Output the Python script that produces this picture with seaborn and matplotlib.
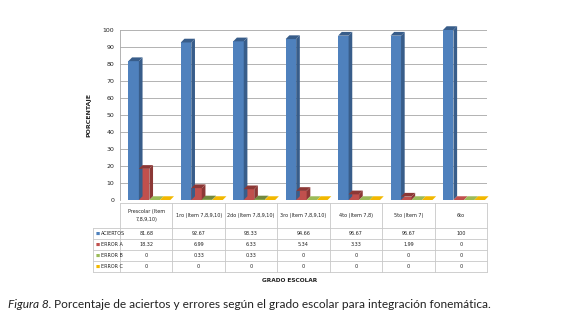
import matplotlib
matplotlib.use("Agg")
import matplotlib.pyplot as plt
from matplotlib.patches import Polygon
from matplotlib.transforms import blended_transform_factory
import seaborn as sns
import pandas as pd

# data
grados = ["Prescolar (Item\n7,8,9,10)", "1ro (Item 7,8,9,10)", "2do (Item 7,8,9,10)",
          "3ro (Item 7,8,9,10)", "4to (Item 7,8)", "5to (Item 7)", "6to"]
series = ["ACIERTOS", "ERROR A", "ERROR B", "ERROR C"]
aciertos = [81.68, 92.67, 93.33, 94.66, 96.67, 96.67, 100]
error_a = [18.32, 6.99, 6.33, 5.34, 3.33, 1.99, 0]
error_b = [0, 0.33, 0.33, 0, 0, 0, 0]
error_c = [0, 0, 0, 0, 0, 0, 0]
yticks = list(range(0, 101, 10))

colors = ["#4F81BD", "#C0504D", "#9BBB59", "#F2B800"]
side_colors = ["#385D8A", "#8C3836", "#71893F", "#B88B00"]

values = [aciertos, error_a, error_b, error_c]
df = pd.DataFrame({
    "grado": grados * 4,
    "serie": [s for s in series for _ in grados],
    "valor": aciertos + error_a + error_b + error_c,
})

sns.set_theme(style="white")
plt.rcParams["font.family"] = ["Liberation Sans Narrow", "DejaVu Sans"]

fig = plt.figure(figsize=(5.8, 3.19), dpi=100)
ax = fig.add_axes([120 / 580, 1 - 200 / 319, 367 / 580, 170 / 319])

sns.barplot(data=df, x="grado", y="valor", hue="serie", order=grados,
            hue_order=series, palette=colors, width=0.8, saturation=1,
            legend=False, ax=ax, zorder=3)

# fake 3D depth on each bar
dx, dy = 0.07, 2.2
for i, bar in enumerate(ax.patches):
    k = i // len(grados)
    x0, w, h = bar.get_x() + 0.06, bar.get_width(), bar.get_height()
    bar.set_x(x0)
    x1 = x0 + w
    bar.set_edgecolor("none")
    side = Polygon([(x1, 0), (x1 + dx, dy), (x1 + dx, h + dy), (x1, h)],
                   closed=True, facecolor=side_colors[k], edgecolor="none",
                   zorder=3, clip_on=False)
    top = Polygon([(x0, h), (x0 + dx, h + dy), (x1 + dx, h + dy), (x1, h)],
                  closed=True, facecolor=side_colors[k] if h > 0 else colors[k],
                  edgecolor="none", zorder=3, clip_on=False)
    ax.add_patch(side)
    ax.add_patch(top)

ax.set_xlim(-0.5, len(grados) - 0.5)
ax.set_ylim(0, 100)
ax.set_yticks(yticks)
ax.set_yticklabels([str(t) for t in yticks], fontsize=4.5, color="#222222")
ax.tick_params(axis="y", length=0, pad=4)
ax.set_xticks([])
ax.set_xlabel("")
ax.set_ylabel("PORCENTAJE", fontsize=4.5, fontweight="bold", labelpad=8)
ax.yaxis.grid(True, color="#A6A6A6", lw=0.6, zorder=0)
for s in ["top", "right", "bottom"]:
    ax.spines[s].set_visible(False)
ax.spines["left"].set_color("#A6A6A6")
ax.spines["left"].set_linewidth(0.6)

# data table under the plot
trans = blended_transform_factory(ax.transData, fig.transFigure)
n = len(grados)
lab_left = -1.02
head_top = 1 - 203 / 319
head_bot = 1 - 228 / 319
row_h = 11 / 319
rows_y = [head_bot - r * row_h for r in range(len(series) + 1)]
lc = "#C8C8C8"
lw = 0.6
fs = 3.5

ax.plot([-0.5, n - 0.5], [head_top, head_top], color=lc, lw=lw, transform=trans, clip_on=False)
for y in rows_y:
    ax.plot([lab_left, n - 0.5], [y, y], color=lc, lw=lw, transform=trans, clip_on=False)
for i in range(n + 1):
    ax.plot([i - 0.5, i - 0.5], [head_top, rows_y[-1]], color=lc, lw=lw,
            transform=trans, clip_on=False)
ax.plot([lab_left, lab_left], [head_bot, rows_y[-1]], color=lc, lw=lw,
        transform=trans, clip_on=False)

for i, g in enumerate(grados):
    ax.text(i, (head_top + head_bot) / 2, g, ha="center", va="center", fontsize=fs,
            color="#222222", transform=trans, linespacing=1.6)

for r, (name, vals) in enumerate(zip(series, values)):
    yc = (rows_y[r] + rows_y[r + 1]) / 2
    ax.text(lab_left + 0.05, yc, "\u25A0", ha="left", va="center", fontsize=3.2,
            color=colors[r], transform=trans)
    ax.text(lab_left + 0.16, yc, name, ha="left", va="center", fontsize=fs,
            color="#222222", transform=trans)
    for i, v in enumerate(vals):
        ax.text(i, yc, f"{v:g}", ha="center", va="center", fontsize=fs,
                color="#222222", transform=trans)

fig.text(290 / 580, 1 - 281 / 319, "GRADO ESCOLAR", ha="center", va="center",
         fontsize=4.2, fontweight="bold", color="#222222")

cap_font = ["Lato", "DejaVu Sans"]
t1 = fig.text(8 / 580, 1 - 305 / 319, "Figura 8.", ha="left", va="center", fontsize=8.6,
              style="italic", color="#222222", family=cap_font)
fig.canvas.draw()
ext = t1.get_window_extent()
fig.text(ext.x1 + 3, ext.y0 + ext.height / 2,
         "Porcentaje de aciertos y errores según el grado escolar para integración fonemática.",
         ha="left", va="center", fontsize=8.6, color="#222222", family=cap_font,
         transform=None)

fig.savefig("out.png", dpi=100)
